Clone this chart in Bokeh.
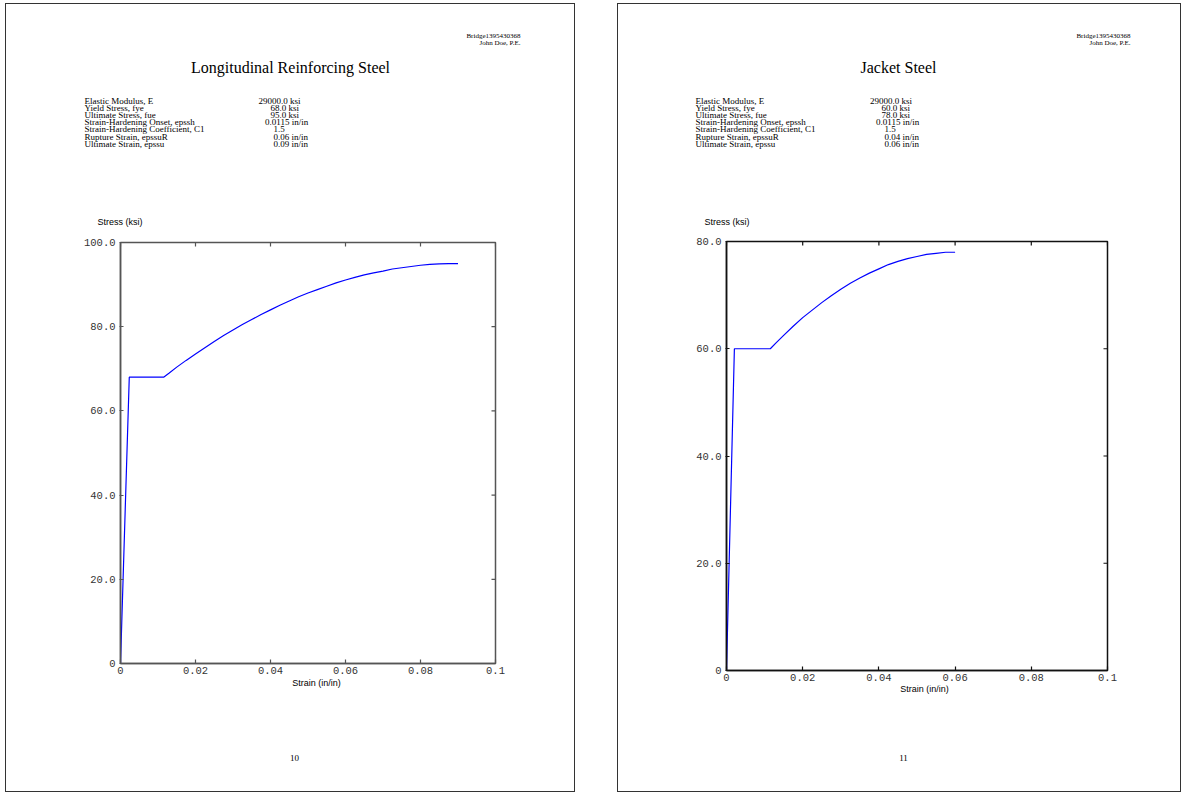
import math
from bokeh.plotting import figure
from bokeh.models import Range1d, FixedTicker, Spacer
from bokeh.layouts import row, column
from bokeh.core.properties import value
from bokeh.embed import file_html
from bokeh.resources import INLINE

# ---------------- data ----------------
long_strain = [0.0, 0.00234, 0.0115, 0.013, 0.015, 0.0175, 0.02, 0.0225, 0.025, 0.0275,
               0.03, 0.0325, 0.035, 0.0375, 0.04, 0.0425, 0.045, 0.0475, 0.05, 0.0525,
               0.055, 0.0575, 0.06, 0.0625, 0.065, 0.0675, 0.07, 0.0725, 0.075, 0.0775,
               0.08, 0.0825, 0.085, 0.0875, 0.09]
long_stress = [0.0, 68.0, 68.0, 69.0, 70.4, 72.0, 73.5, 75.0, 76.5, 77.9,
               79.2, 80.5, 81.7, 82.9, 84.0, 85.1, 86.1, 87.1, 88.0, 88.8,
               89.6, 90.4, 91.1, 91.7, 92.3, 92.8, 93.2, 93.7, 94.0, 94.3,
               94.6, 94.8, 94.9, 95.0, 95.0]

jacket_strain = [0.0, 0.00207, 0.0115, 0.013, 0.015, 0.0175, 0.02, 0.0225, 0.025, 0.0275,
                 0.03, 0.0325, 0.035, 0.0375, 0.04, 0.0425, 0.045, 0.0475, 0.05, 0.0525,
                 0.055, 0.0575, 0.06]
jacket_stress = [0.0, 60.0, 60.0, 61.1, 62.5, 64.2, 65.8, 67.2, 68.6, 69.9,
                 71.1, 72.2, 73.2, 74.1, 74.9, 75.7, 76.3, 76.8, 77.2, 77.6,
                 77.8, 78.0, 78.0]

x_ticks = [0, 0.02, 0.04, 0.06, 0.08, 0.1]
x_tick_labels = ["0", "0.02", "0.04", "0.06", "0.08", "0.1"]
long_y_ticks = [0, 20, 40, 60, 80, 100]
long_y_tick_labels = ["0", "20.0", "40.0", "60.0", "80.0", "100.0"]
jacket_y_ticks = [0, 20, 40, 60, 80]
jacket_y_tick_labels = ["0", "20.0", "40.0", "60.0", "80.0"]

param_names = ["Elastic Modulus, E", "Yield Stress, fye", "Ultimate Stress, fue",
               "Strain-Hardening Onset, epssh", "Strain-Hardening Coefficient, C1",
               "Rupture Strain, epssuR", "Ultimate Strain, epssu"]
long_param_values = ["29000.0 ksi", "68.0 ksi", "95.0 ksi", "0.0115 in/in", "1.5",
                     "0.06 in/in", "0.09 in/in"]
jacket_param_values = ["29000.0 ksi", "60.0 ksi", "78.0 ksi", "0.0115 in/in", "1.5",
                       "0.04 in/in", "0.06 in/in"]

header_lines = ["Bridge1395430368", "John Doe, P.E."]
long_title = "Longitudinal Reinforcing Steel"
jacket_title = "Jacket Steel"
y_label = "Stress (ksi)"
x_label = "Strain (in/in)"
long_page_no = "10"
jacket_page_no = "11"

# ---------------- styling / layout (absolute window pixels) ----------------
SERIF = "Liberation Serif"
MONO = "Liberation Mono"
SANS = "Liberation Sans"
PAGE_TOP, PAGE_BOTTOM = 3, 792
EDGE = "#333333"
SHADOW_L = f"inset 1px 0 0 {EDGE}"
SHADOW_R = f"inset -1px 0 0 {EDGE}"
SHADOW_T = f"inset 0 1px 0 {EDGE}"
SHADOW_B = f"inset 0 -1px 0 {EDGE}"


def text_fig(x0, w, y0, y1, shadows):
    f = figure(width=w, height=y1 - y0, output_backend="svg", toolbar_location=None,
               x_range=Range1d(x0, x0 + w), y_range=Range1d(y1, y0),
               x_axis_location=None, y_axis_location=None, min_border=0,
               frame_align=False)
    f.grid.visible = False
    f.outline_line_color = None
    f.background_fill_color = None
    f.border_fill_color = None
    f.styles = {"box-shadow": ", ".join(shadows)}
    return f


def put(f, X, Y, text, font, size, align="left", color="black"):
    f.text(x=[X], y=[Y], text=[text], text_font=value(font), text_font_size=size,
           text_align=align, text_baseline="middle", text_color=color)


def make_page(x0, w, frame, split, x_max, y_max, y_ticks, y_tick_labels,
              xs, ys, title, values, lay, frame_color):
    fl, ft, fr, fb = frame
    top_split, bottom_split = split

    # ---- header block ----
    head = text_fig(x0, w, PAGE_TOP, top_split, [SHADOW_L, SHADOW_R, SHADOW_T])
    hx, hy1, hy2 = lay["header"]
    put(head, hx, hy1, header_lines[0], SERIF, "7px", "right")
    put(head, hx, hy2, header_lines[1], SERIF, "7px", "right")
    tx, ty = lay["title"]
    put(head, tx, ty, title, SERIF, "16px", "center")
    cx, ry0, rdy = lay["table"]
    for i, (name, val) in enumerate(zip(param_names, values)):
        put(head, cx, ry0 + rdy * i, name, SERIF, "9px")
        put(head, lay["value_x"][i], ry0 + rdy * i, val, SERIF, "9px")
    sx, sy = lay["ylabel"]
    put(head, sx, sy, y_label, SANS, "9px")

    # ---- chart ----
    p = figure(width=w, height=bottom_split - top_split, output_backend="svg",
               toolbar_location=None,
               x_range=Range1d(0, x_max), y_range=Range1d(0, y_max),
               min_border_left=fl - x0, min_border_right=x0 + w - fr,
               min_border_top=ft - top_split, min_border_bottom=bottom_split - fb,
               frame_align=False)
    p.background_fill_color = "white"
    p.border_fill_color = None
    p.styles = {"box-shadow": ", ".join([SHADOW_L, SHADOW_R])}
    p.grid.visible = False
    p.outline_line_color = frame_color
    p.outline_line_width = 1.5

    p.xaxis.ticker = FixedTicker(ticks=x_ticks)
    p.xaxis.major_label_overrides = dict(zip(x_ticks, x_tick_labels))
    p.yaxis.ticker = FixedTicker(ticks=y_ticks)
    p.yaxis.major_label_overrides = dict(zip(y_ticks, y_tick_labels))
    for ax in p.axis:
        ax.axis_line_color = frame_color
        ax.axis_line_width = 1.5
        ax.major_tick_line_color = frame_color
        ax.major_tick_line_width = 1.2
        ax.minor_tick_line_color = None
        ax.major_label_text_font = MONO
        ax.major_label_text_font_size = "10.5px"
        ax.major_label_text_color = "#333333"
    p.xaxis.major_tick_in = 4
    p.xaxis.major_tick_out = 0
    p.xaxis.major_label_standoff = 3
    p.yaxis.major_tick_in = 3
    p.yaxis.major_tick_out = 1
    p.yaxis.major_label_standoff = 4

    # mirrored inward ticks on top and right edges
    p.ray(x=x_ticks, y=[y_max] * len(x_ticks), length=4, length_units="screen",
          angle=-math.pi / 2, line_color=frame_color, line_width=1.2)
    p.ray(x=[x_max] * len(y_ticks), y=y_ticks, length=4, length_units="screen",
          angle=math.pi, line_color=frame_color, line_width=1.2)

    p.line(xs, ys, line_color="#0000ff", line_width=1.2)

    # ---- footer block ----
    foot = text_fig(x0, w, bottom_split, PAGE_BOTTOM, [SHADOW_L, SHADOW_R, SHADOW_B])
    xx, xy = lay["xlabel"]
    put(foot, xx, xy, x_label, SANS, "9px", "center")
    px, py, ptxt = lay["page"]
    put(foot, px, py, ptxt, SERIF, "9px", "center")

    return column(head, p, foot, spacing=0)


left_layout = {
    "header": (520, 35.5, 42),
    "title": (290, 67),
    "table": (84, 100, 7.2),
    "value_x": [258, 270, 270, 264.5, 273, 273, 273],
    "ylabel": (97, 221),
    "xlabel": (316, 682),
    "page": (294, 757, long_page_no),
}
right_layout = {
    "header": (1130, 35.5, 42),
    "title": (898, 67),
    "table": (695, 100, 7.2),
    "value_x": [869.5, 881, 881, 875.5, 884, 884, 884],
    "ylabel": (704, 221),
    "xlabel": (924, 688),
    "page": (903, 757, jacket_page_no),
}

page1 = make_page(5, 570, (120, 242, 495, 663), (232, 678), 0.1, 100,
                  long_y_ticks, long_y_tick_labels, long_strain, long_stress,
                  long_title, long_param_values, left_layout, "#555555")
page2 = make_page(617, 564, (726, 241, 1107, 670), (231, 685), 0.1, 80,
                  jacket_y_ticks, jacket_y_tick_labels, jacket_strain, jacket_stress,
                  jacket_title, jacket_param_values, right_layout, "#111111")

H = PAGE_BOTTOM - PAGE_TOP
layout = column(
    Spacer(width=1181, height=PAGE_TOP),
    row(Spacer(width=5, height=H), page1, Spacer(width=42, height=H), page2, spacing=0),
    spacing=0,
)
open("out.html", "w").write(file_html(layout, INLINE))
